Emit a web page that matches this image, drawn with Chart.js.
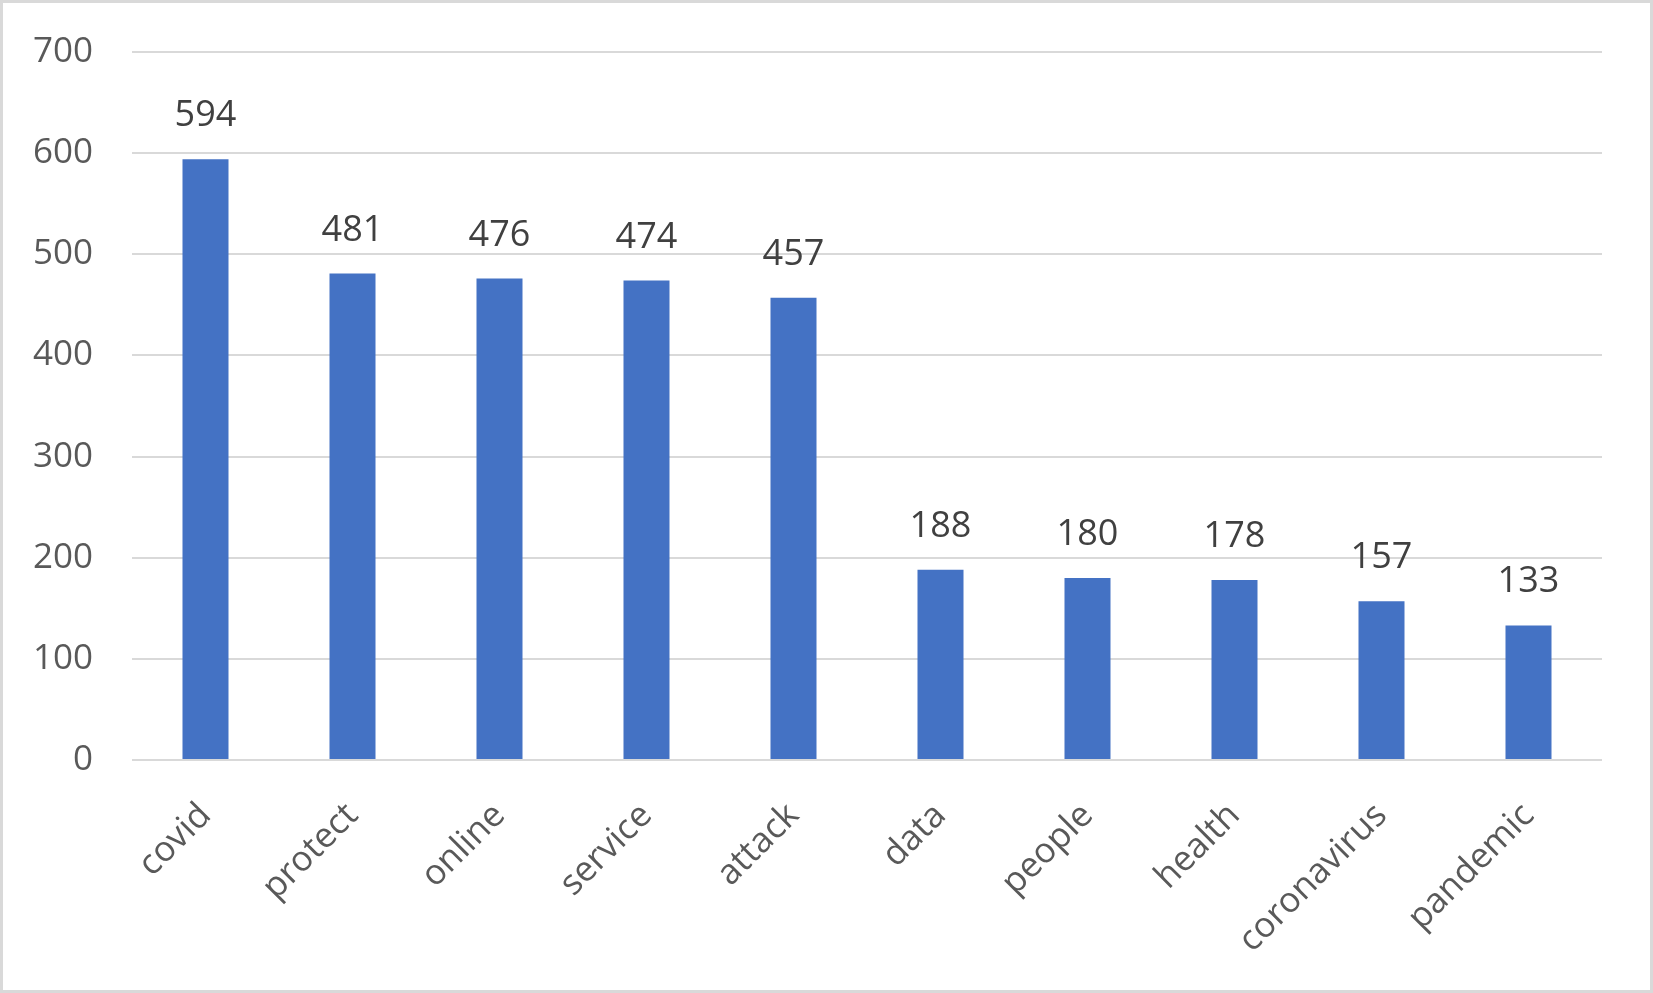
<!DOCTYPE html>
<html>
<head>
<meta charset="utf-8">
<script src="https://cdn.jsdelivr.net/npm/chart.js@4/dist/chart.umd.min.js"></script>
<style>
    body { margin: 0; background: #fff; }
    #wrap { position: relative; width: 1653px; height: 993px; box-sizing: border-box; border: 3px solid #d9d9d9; }
    #chart { display: block; }
</style>
</head>
<body>
<div id="wrap"><canvas id="chart"></canvas></div>
<script>
var categories = ["covid", "protect", "online", "service", "attack", "data", "people", "health", "coronavirus", "pandemic"];
var counts = [594, 481, 476, 474, 457, 188, 180, 178, 157, 133];
var yTicks = [0, 100, 200, 300, 400, 500, 600, 700];

var fontFamily = "'Open Sans', 'Noto Sans', sans-serif";

// value labels drawn above each bar
var valueLabels = {
    id: "valueLabels",
    afterDatasetsDraw: function(chart) {
        var ctx = chart.ctx;
        var meta = chart.getDatasetMeta(0);
        ctx.save();
        ctx.font = "36px " + fontFamily;
        ctx.fillStyle = "#404040";
        ctx.textAlign = "center";
        ctx.textBaseline = "alphabetic";
        meta.data.forEach(function(bar, i) {
            ctx.fillText(String(counts[i]), bar.x, bar.y - 33);
        });
        ctx.restore();
    }
};

var chart = new Chart(document.getElementById("chart"), {
    type: "bar",
    data: {
        labels: categories,
        datasets: [{
            data: counts,
            backgroundColor: "#4472c4",
            borderWidth: 0,
            barPercentage: 0.313,
            categoryPercentage: 1
        }]
    },
    options: {
        responsive: true,
        maintainAspectRatio: false,
        animation: false,
        layout: {
            padding: { top: 49, right: 48, left: 0, bottom: 0 }
        },
        plugins: {
            legend: { display: false },
            tooltip: { enabled: false }
        },
        scales: {
            x: {
                grid: { display: false, drawTicks: false },
                border: { display: false },
                ticks: {
                    color: "#595959",
                    font: { family: fontFamily, size: 35 },
                    minRotation: 45,
                    maxRotation: 45,
                    padding: 35,
                    autoSkip: false
                },
                afterFit: function(scale) { scale.height = 230; }
            },
            y: {
                min: 0,
                max: 700,
                afterBuildTicks: function(scale) {
                    scale.ticks = yTicks.map(function(v) { return { value: v }; });
                },
                grid: { color: "#d9d9d9", lineWidth: 2, drawTicks: true, tickLength: 39, tickColor: "rgba(0,0,0,0)" },
                border: { display: false },
                ticks: {
                    color: "#595959",
                    font: { family: fontFamily, size: 35 },
                    padding: 0
                },
                afterFit: function(scale) { scale.width = 129; }
            }
        }
    },
    plugins: [valueLabels]
});
</script>
</body>
</html>
